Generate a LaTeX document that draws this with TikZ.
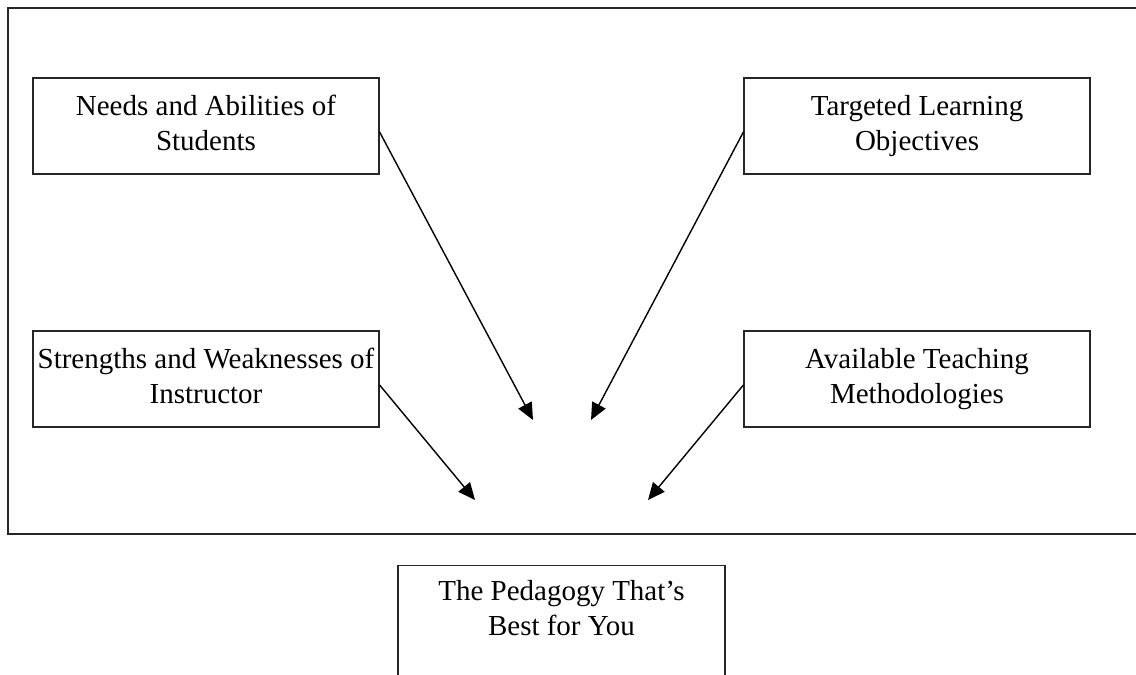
\documentclass[tikz,border=0pt]{standalone}
\usepackage{fontspec}
\setmainfont{Liberation Serif}
\usetikzlibrary{arrows.meta}

\begin{document}
\begin{tikzpicture}[x=0.5pt,y=-0.5pt,
    box/.style={draw=black!85,line width=0.6pt,inner sep=0pt,align=center,
      minimum width=173pt,text height=36pt,text depth=12pt,
      font=\fontsize{14.5}{17.5}\selectfont},
    >={Triangle[length=8.5pt,width=7.5pt]}]
    \useasboundingbox (0,0) rectangle (1136,675);
    \clip (0,0) rectangle (1136,675);
    \draw[black!85,line width=0.8pt] (8,8) rectangle (1160,534);

    \node[box] (needs) at (206,126) {Needs and Abilities of\\Students};
    \node[box] (strengths) at (206,379) {Strengths and Weaknesses of\\Instructor};
    \node[box] (targets) at (917,126) {Targeted Learning\\Objectives};
    \node[box] (methods) at (917,379) {Available Teaching\\Methodologies};
    \node[box,anchor=north,minimum width=163.5pt,text height=35pt,text depth=45pt] (best) at (561.5,565) {The Pedagogy That’s\\Best for You};

    \coordinate (tipa) at (533,420);
    \coordinate (tipb) at (591,420);
    \coordinate (tipc) at (475,500);
    \coordinate (tipd) at (648,500);

    \draw[->,line width=0.7pt] ([yshift=-3pt]needs.east) -- (tipa);
    \draw[->,line width=0.7pt] ([yshift=-3pt]targets.west) -- (tipb);
    \draw[->,line width=0.7pt] ([yshift=-3pt]strengths.east) -- (tipc);
    \draw[->,line width=0.7pt] ([yshift=-3pt]methods.west) -- (tipd);
\end{tikzpicture}
\end{document}
